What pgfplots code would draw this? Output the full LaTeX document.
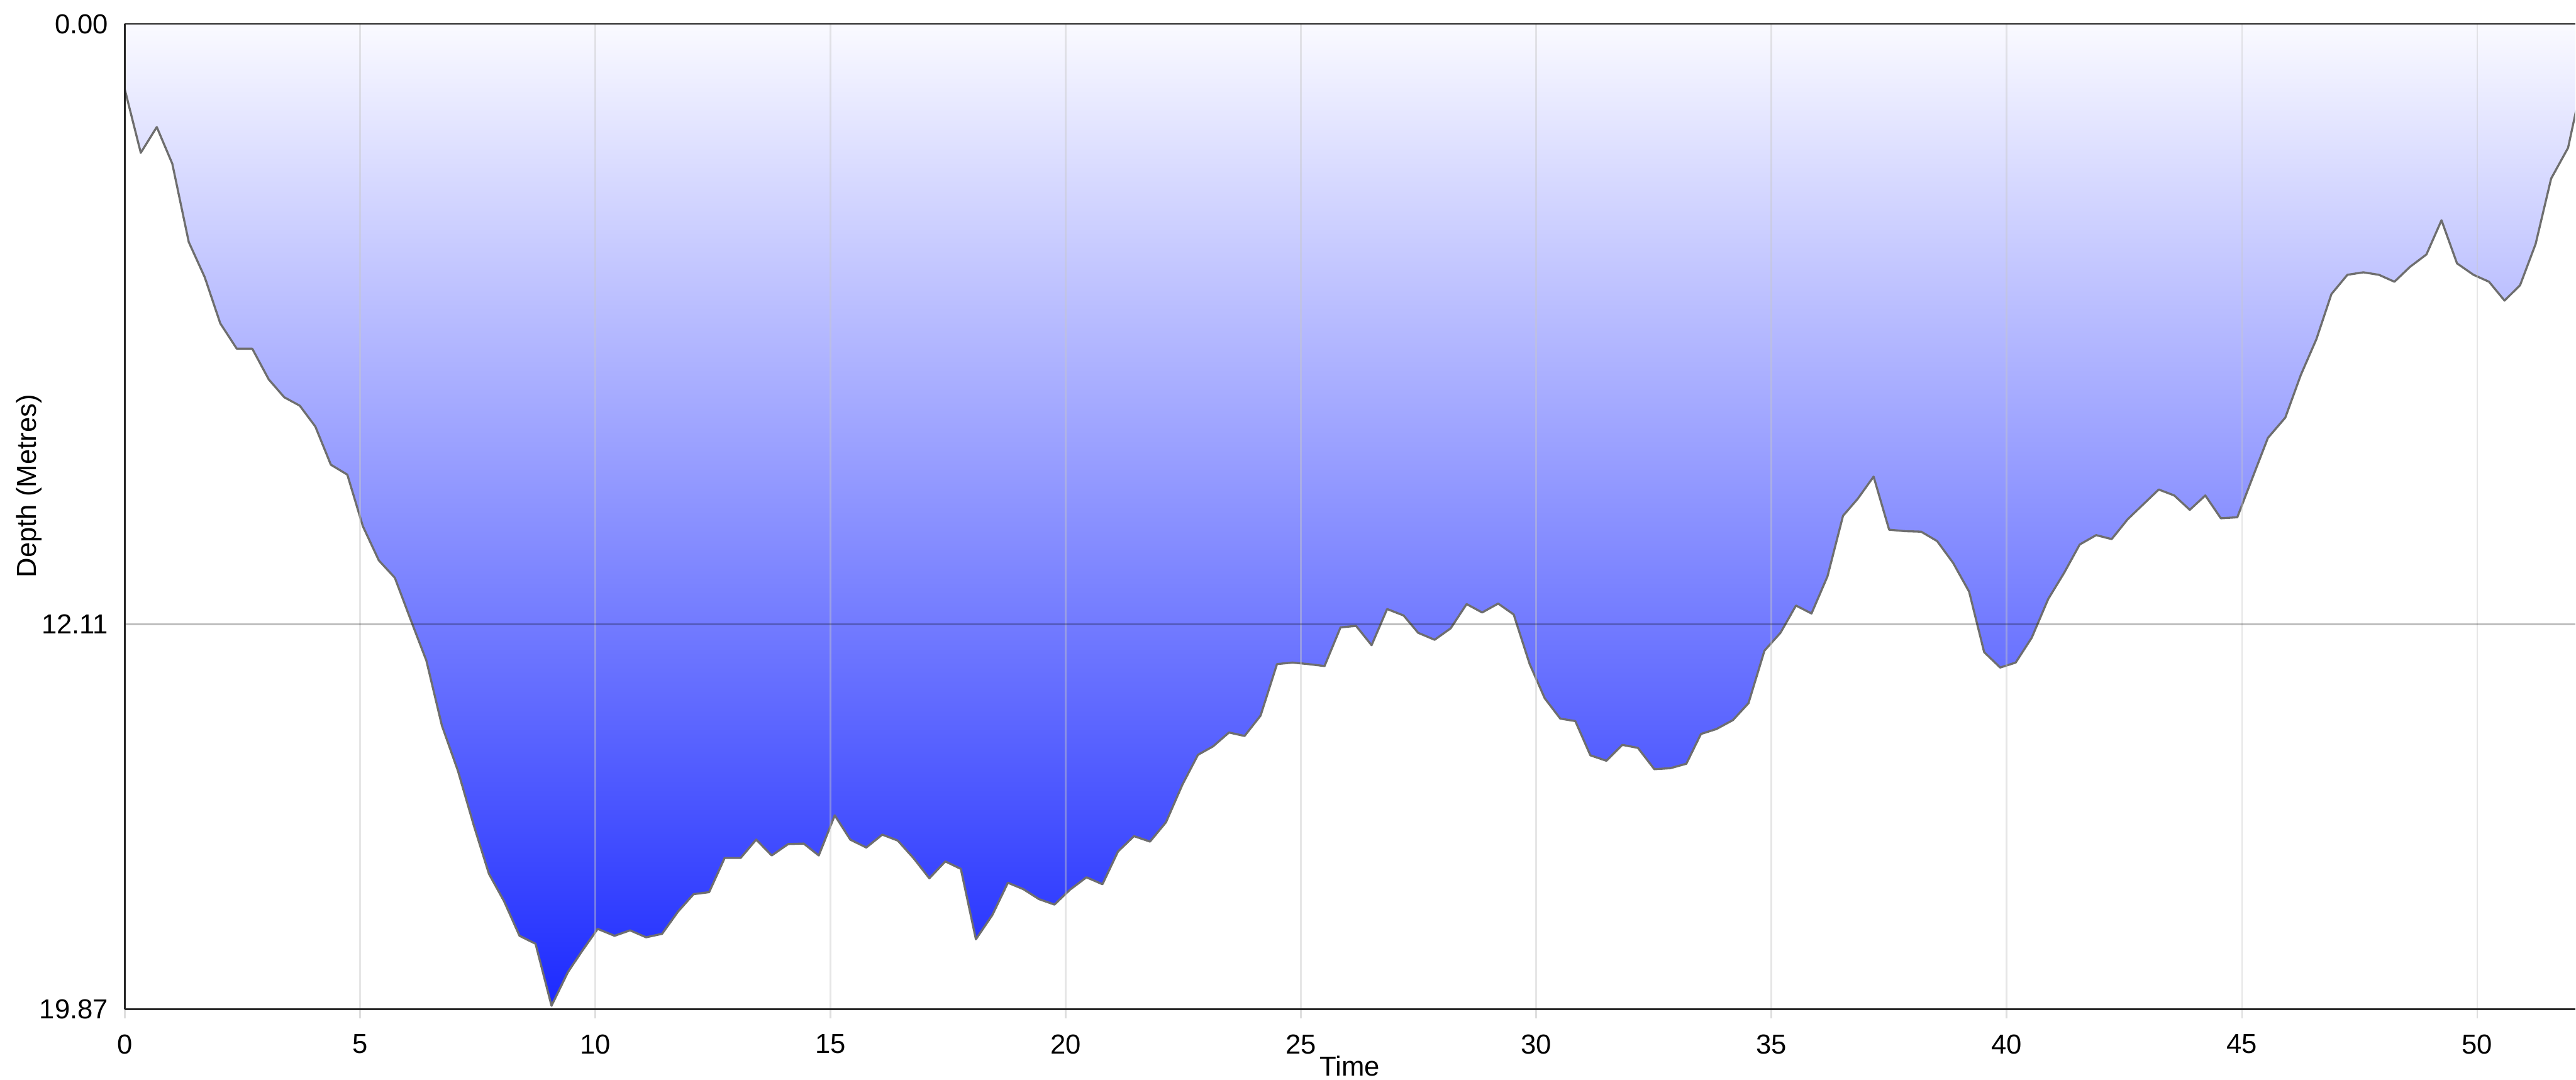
\documentclass[border=0pt]{standalone}
\usepackage{pgfplots}
\pgfplotsset{compat=1.18}
\usepackage{pgfplotstable}
\usepackage{fontspec}
\setmainfont{Liberation Sans}
\definecolor{lineg}{RGB}{110,110,110}
\definecolor{deep}{RGB}{28,42,255}
\definecolor{shallow}{RGB}{250,250,255}
\definecolor{gridc}{RGB}{200,200,200}
\pgfplotstableread{
t d
0.00 1.32
0.34 2.60
0.68 2.08
1.01 2.82
1.36 4.40
1.70 5.11
2.03 6.04
2.38 6.55
2.71 6.55
3.06 7.17
3.39 7.53
3.72 7.70
4.05 8.12
4.38 8.89
4.73 9.09
5.06 10.13
5.40 10.82
5.74 11.17
6.07 12.00
6.41 12.84
6.74 14.15
7.08 15.06
7.42 16.17
7.74 17.14
8.06 17.69
8.39 18.39
8.73 18.55
9.07 19.80
9.42 19.12
9.71 18.71
10.05 18.25
10.41 18.39
10.74 18.28
11.08 18.42
11.42 18.35
11.76 17.90
12.09 17.55
12.42 17.51
12.75 16.82
13.09 16.82
13.42 16.45
13.75 16.77
14.10 16.54
14.43 16.53
14.75 16.77
15.09 15.96
15.42 16.45
15.76 16.61
16.10 16.35
16.43 16.47
16.77 16.83
17.10 17.23
17.44 16.89
17.77 17.04
18.09 18.46
18.44 17.97
18.77 17.32
19.10 17.45
19.43 17.65
19.76 17.76
20.09 17.46
20.44 17.21
20.78 17.35
21.11 16.69
21.45 16.38
21.79 16.49
22.13 16.10
22.48 15.34
22.81 14.74
23.13 14.57
23.47 14.29
23.80 14.36
24.14 13.95
24.49 12.91
24.82 12.88
25.15 12.91
25.50 12.95
25.84 12.17
26.17 12.14
26.50 12.53
26.83 11.80
27.18 11.93
27.49 12.28
27.84 12.42
28.18 12.19
28.52 11.70
28.85 11.87
29.19 11.69
29.52 11.91
29.86 12.91
30.18 13.60
30.51 14.01
30.83 14.06
31.15 14.75
31.49 14.86
31.83 14.54
32.16 14.60
32.51 15.03
32.85 15.01
33.19 14.92
33.50 14.32
33.83 14.22
34.18 14.04
34.51 13.70
34.85 12.64
35.19 12.28
35.52 11.73
35.85 11.89
36.19 11.14
36.52 9.92
36.83 9.58
37.17 9.13
37.50 10.20
37.84 10.23
38.18 10.24
38.52 10.43
38.86 10.87
39.20 11.45
39.52 12.67
39.86 12.98
40.19 12.88
40.53 12.38
40.88 11.60
41.22 11.07
41.55 10.50
41.90 10.31
42.23 10.39
42.57 9.99
42.90 9.69
43.23 9.39
43.56 9.51
43.89 9.80
44.22 9.51
44.55 9.97
44.90 9.95
45.22 9.16
45.55 8.35
45.92 7.94
46.25 7.08
46.58 6.36
46.90 5.45
47.24 5.06
47.58 5.01
47.91 5.06
48.24 5.20
48.57 4.90
48.92 4.65
49.24 3.96
49.57 4.83
49.92 5.06
50.25 5.20
50.58 5.58
50.91 5.27
51.24 4.44
51.57 3.12
51.93 2.50
52.27 1.00
}\depthdata

\begin{document}
\begin{tikzpicture}
\begin{axis}[
  scale only axis, width=820.8pt, height=330pt,
  xmin=0, xmax=52.08, ymin=0, ymax=19.87, y dir=reverse,
  axis x line*=box, axis y line*=left,
  axis line style={black!85, line width=0.6pt},
  axis on top,
  xtick={0,5,...,50}, xticklabels={0,5,10,15,20,25,30,35,40,45,50},
  ytick={0,12.11,19.87}, yticklabels={0.00,12.11,19.87},
  xtick pos=left,
  xmajorgrids, ymajorgrids,
  x grid style={gridc, opacity=0.45, line width=0.6pt},
  y grid style={black, opacity=0.25, line width=0.5pt},
  tick align=outside, major tick length=3pt,
  xtick style={gridc, opacity=0.6, line width=0.6pt},
  ytick style={draw=none},
  ticklabel style={font=\fontsize{9.2}{10}\selectfont},
  xticklabel style={yshift=-2pt},
  yticklabel style={xshift=1pt},
  xlabel={Time}, ylabel={Depth (Metres)},
  label style={font=\fontsize{9.2}{10}\selectfont},
  xlabel style={at={(axis description cs:0.5,-0.068)}, anchor=base, inner sep=0pt},
  ylabel style={at={(axis description cs:-0.039,0.531)}, anchor=center, inner sep=0pt},
]
\addplot[draw=none, top color=shallow, bottom color=deep] table[x=t,y=d]{\depthdata} \closedcycle;
\addplot[lineg, line width=0.7pt, line join=round] table[x=t,y=d]{\depthdata};
\coordinate (bl) at (rel axis cs:0,0);
\coordinate (tr) at (rel axis cs:1,1);
\end{axis}
\path ([xshift=-41.8pt,yshift=-23.6pt]bl) rectangle ([yshift=8pt]tr);
\end{tikzpicture}
\end{document}
